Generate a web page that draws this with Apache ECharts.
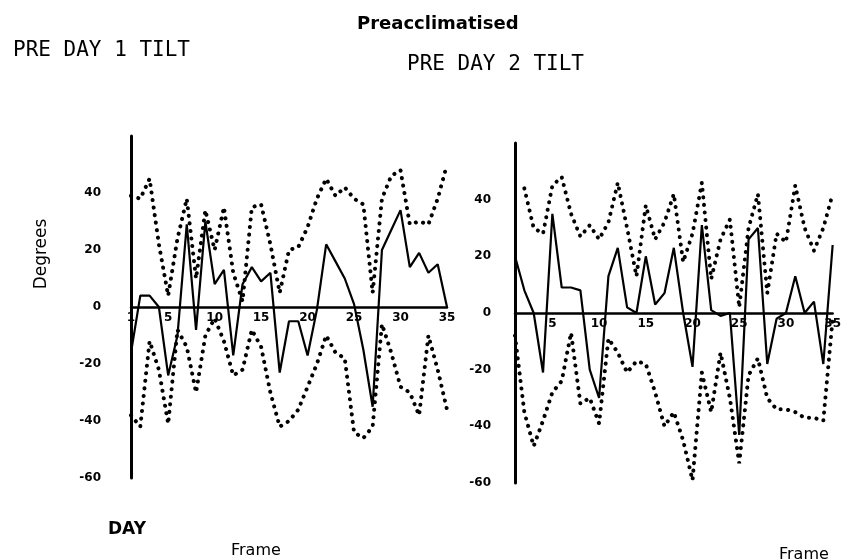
<!DOCTYPE html>
<html>
<head>
<meta charset="utf-8">
<script src="https://cdn.jsdelivr.net/npm/echarts@6/dist/echarts.min.js"></script>
<style>
html,body{margin:0;padding:0;background:#fff;}
#c{width:844px;height:560px;}
</style>
</head>
<body>
<div id="c"></div>
<script>
// Frames (x categories)
const frames = Array.from({length: 35}, (_, i) => String(i + 1));
const leftTickLabels = ['1', '5', '10', '15', '20', '25', '30', '35'];
const rightTickLabels = ['5', '10', '15', '20', '25', '30', '35'];
const yTickLabels = [-60, -40, -20, 0, 20, 40];

// PRE DAY 1 TILT (degrees per frame)
const day1Upper = [39, 38, 45, 22, 4, 24, 38, 10, 34, 20, 35, 12, 2, 35, 36, 22, 5, 20, 21, 28, 38, 45, 39, 42, 38, 36, 5, 38, 46, 48, 29, 30, 29, 38, 50];
const day1Mean  = [-16, 4, 4, 0, -24, -10, 29, -8, 30, 8, 13, -17, 8, 14, 9, 12, -23, -5, -5, -17, -1, 22, 16, 10, 1, -15, -35, 20, 27, 34, 14, 19, 12, 15, 0];
const day1Lower = [-38, -42, -12, -22, -41, -8, -14, -30, -10, -4, -12, -24, -22, -8, -14, -30, -42, -40, -36, -28, -20, -10, -16, -18, -44, -46, -42, -6, -16, -28, -30, -38, -10, -22, -36];

// PRE DAY 2 TILT (degrees per frame)
const day2Upper = [null, 44, 30, 28, 45, 48, 35, 27, 31, 26, 32, 46, 30, 13, 38, 26, 32, 42, 18, 28, 46, 12, 26, 33, 2, 30, 42, 7, 28, 25, 45, 30, 22, 30, 42];
const day2Mean  = [20, 8, 0, -21, 35, 9, 9, 8, -20, -30, 13, 23, 2, 0, 20, 3, 7, 23, 0, -19, 31, 1, -1, 0, -43, 26, 30, -18, -2, 0, 13, 0, 4, -18, 24];
const day2Lower = [-8, -35, -47, -38, -28, -24, -7, -32, -30, -39, -9, -14, -21, -17, -18, -28, -40, -35, -45, -59, -21, -35, -14, -30, -53, -22, -16, -30, -34, -34, -35, -37, -37, -38, -2];

const chart = echarts.init(document.getElementById('c'), null, {renderer: 'canvas'});

const dotted = {color: '#000', width: 4, type: [0.1, 7.5], cap: 'round'};
const solid = {color: '#000', width: 2.2};

// x axis drawn at the zero line: offset from grid bottom up to y = 0
function xAxisFor(gridIndex, shown, offset) {
  return {
    type: 'category', gridIndex, data: frames, boundaryGap: false,
    position: 'bottom', offset,
    axisLine: {onZero: false, lineStyle: {color: '#000', width: 2.5}},
    axisTick: {show: false},
    axisLabel: {
      interval: (i, v) => shown.includes(v),
      color: '#000', fontFamily: 'DejaVu Sans', fontSize: 12, fontWeight: 'bold', margin: 5
    },
    splitLine: {show: false}
  };
}
function yAxisFor(gridIndex, margin) {
  return {
    type: 'value', gridIndex, min: -60, max: 60, interval: 20,
    axisLine: {show: true, lineStyle: {color: '#000', width: 3}},
    axisTick: {show: false},
    splitLine: {show: false},
    axisLabel: {
      color: '#000', fontFamily: 'DejaVu Sans', fontSize: 12, fontWeight: 'bold', margin,
      formatter: v => (yTickLabels.includes(v) ? String(v) : '')
    }
  };
}
function line(name, data, idx, style) {
  return {
    name, type: 'line', data, xAxisIndex: idx, yAxisIndex: idx,
    showSymbol: false, symbol: 'none', lineStyle: style, silent: true, animation: false,
    connectNulls: false
  };
}

const plotter = '"DejaVu Sans Mono", monospace';

chart.setOption({
  backgroundColor: '#fff',
  animation: false,
  title: [
    {text: 'Preacclimatised', left: 352, top: 10, textStyle: {fontFamily: 'DejaVu Sans', fontWeight: 'bold', fontSize: 18, color: '#000'}},
    {text: 'PRE DAY 1 TILT', left: 8, top: 35, textStyle: {fontFamily: plotter, fontWeight: 'normal', fontSize: 21, color: '#000'}},
    {text: 'PRE DAY 2 TILT', left: 402, top: 49, textStyle: {fontFamily: plotter, fontWeight: 'normal', fontSize: 21, color: '#000'}},
    {text: 'DAY', left: 103, top: 516, textStyle: {fontFamily: 'DejaVu Sans', fontWeight: 'bold', fontSize: 17, color: '#000'}},
    {text: 'Frame', left: 226, top: 538, textStyle: {fontFamily: 'DejaVu Sans', fontWeight: 'normal', fontSize: 16, color: '#000'}},
    {text: 'Frame', left: 774, top: 542, textStyle: {fontFamily: 'DejaVu Sans', fontWeight: 'normal', fontSize: 16, color: '#000'}}
  ],
  graphic: [
    {type: 'text', x: 42, y: 254, rotation: Math.PI / 2,
     style: {text: 'Degrees', fontFamily: 'DejaVu Sans', fontSize: 17, fill: '#000', align: 'center', verticalAlign: 'middle'}}
  ],
  grid: [
    {left: 131, top: 136, width: 316, height: 342},
    {left: 515, top: 143, width: 325, height: 340}
  ],
  xAxis: [xAxisFor(0, leftTickLabels, -171), xAxisFor(1, rightTickLabels, -170)],
  yAxis: [yAxisFor(0, 30), yAxisFor(1, 24)],
  series: [
    line('Day 1 upper', day1Upper, 0, dotted),
    line('Day 1 mean', day1Mean, 0, solid),
    line('Day 1 lower', day1Lower, 0, dotted),
    line('Day 2 upper', day2Upper, 1, dotted),
    line('Day 2 mean', day2Mean, 1, solid),
    line('Day 2 lower', day2Lower, 1, dotted)
  ]
});
</script>
</body>
</html>
